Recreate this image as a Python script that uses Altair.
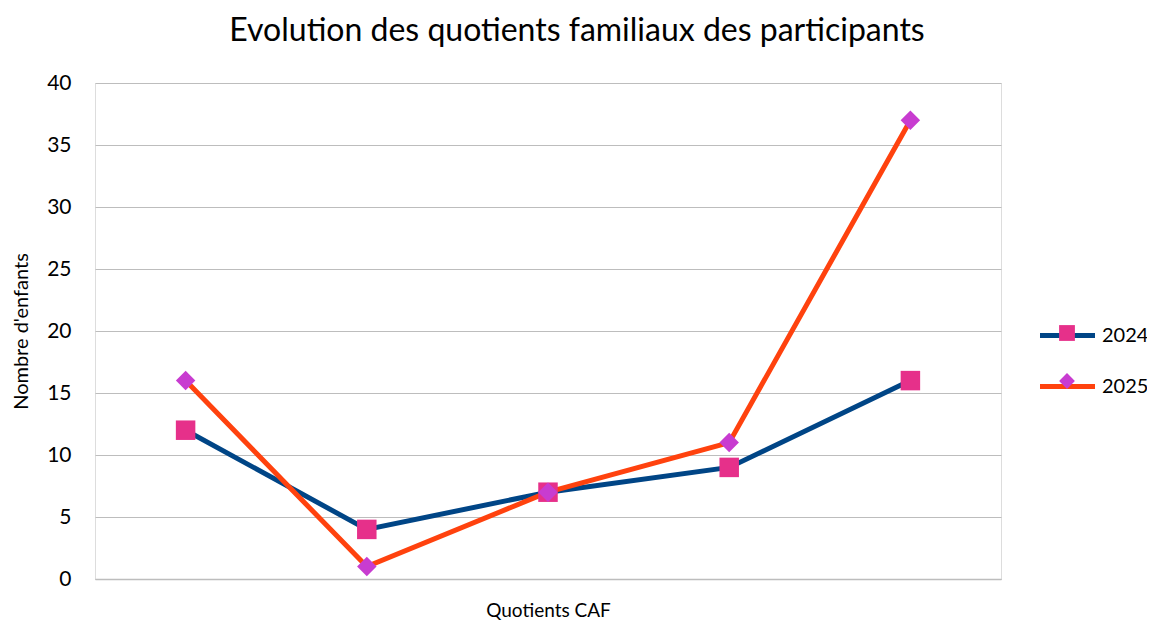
import altair as alt
import pandas as pd

categories = ["QF1", "QF2", "QF3", "QF4", "QF5"]
series_2024 = [12, 4, 7, 9, 16]
series_2025 = [16, 1, 7, 11, 37]
years = ["2024", "2025"]
y_ticks = [0, 5, 10, 15, 20, 25, 30, 35, 40]

line_colors = ["#004586", "#ff420e"]
marker_colors = ["#e6308a", "#c83cd0"]
marker_shapes = ["square", "diamond"]

rows = []
for yr, vals in zip(years, [series_2024, series_2025]):
    for i, (c, v) in enumerate(zip(categories, vals)):
        rows.append({"cat": c, "annee": yr, "val": v, "ord": i})
df = pd.DataFrame(rows)

FONT = "Lato"

x = alt.X("cat:N", sort=categories, title="Quotients CAF",
          axis=alt.Axis(labels=False, ticks=False, domainColor="#bdbdbd", domainWidth=1.5,
                        titleFont=FONT, titleFontSize=19, titleFontWeight="normal",
                        titleColor="#000000", titlePadding=22),
          scale=alt.Scale(paddingInner=0, paddingOuter=0))
y = alt.Y("val:Q", title="Nombre d'enfants",
          scale=alt.Scale(domain=[0, 40]),
          axis=alt.Axis(values=y_ticks, ticks=False, domain=False, labelPadding=24,
                        labelFont=FONT, labelFontSize=21, labelColor="#000000",
                        gridColor="#bdbdbd", gridWidth=1.2,
                        titleFont=FONT, titleFontSize=20, titleFontWeight="normal",
                        titleColor="#000000", titlePadding=15))

LX = 960
LY = 240
lines = alt.Chart(df).mark_line(strokeWidth=5).encode(
    x=x, y=y,
    stroke=alt.Stroke("annee:N", scale=alt.Scale(domain=years, range=line_colors),
                      legend=alt.Legend(title=None, orient="none", legendX=LX, legendY=LY,
                                        symbolType="M-2.75,0H2.75", symbolSize=400,
                                        symbolStrokeWidth=5, labelFont=FONT, labelFontSize=20,
                                        labelColor="#000000", labelOffset=22, rowPadding=28)),
    detail="annee:N",
    order="ord:Q",
)

pt_legend = dict(title=None, orient="none", legendX=LX + 2, legendY=LY,
                 symbolSize=250, symbolStrokeWidth=0, labelFont=FONT, labelFontSize=20,
                 labelExpr="''", labelOffset=22, rowPadding=28)
points = alt.Chart(df).mark_point(filled=True, size=380, opacity=1).encode(
    x=x, y=y,
    fill=alt.Fill("annee:N", scale=alt.Scale(range=marker_colors), legend=alt.Legend(**pt_legend)),
    shape=alt.Shape("annee:N", scale=alt.Scale(range=marker_shapes), legend=alt.Legend(**pt_legend)),
)

chart = alt.layer(lines, points).properties(
    width=906, height=496,
    title=alt.TitleParams("Evolution des quotients familiaux des participants",
                          font=FONT, fontSize=32, fontWeight="normal", color="#000000",
                          anchor="middle", dx=29, offset=24),
    autosize=alt.AutoSizeParams(type="none"),
    padding={"left": 87, "top": 75, "right": 146, "bottom": 41},
).configure_view(stroke="#bdbdbd", strokeWidth=1.2).configure(background="#ffffff")

chart.save("out.html", embed_options={"renderer": "svg", "actions": False})
